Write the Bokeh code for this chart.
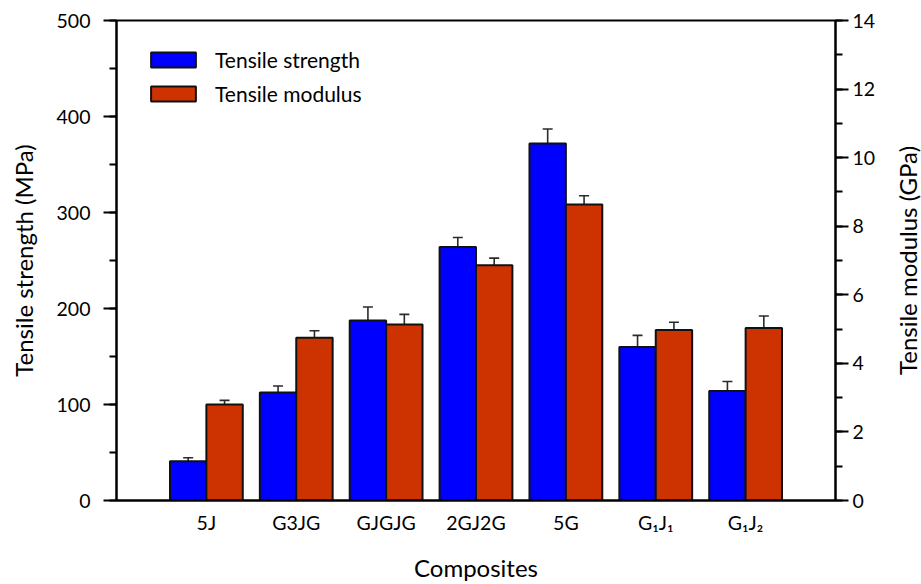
from bokeh.plotting import figure
from bokeh.layouts import row
from bokeh.models import (Range1d, LinearAxis, SingleIntervalTicker, FixedTicker,
                          ColumnDataSource, Whisker, TeeHead, Legend, LegendItem, Title)
from bokeh.embed import file_html
from bokeh.resources import INLINE

# Composite laminates and their tensile properties
composites = ["5J", "G3JG", "GJGJG", "2GJ2G", "5G", "G\u2081J\u2081", "G\u2081J\u2082"]
strength_mpa = [41, 112.5, 187.5, 264, 372, 160, 114]
strength_err = [3.5, 6.8, 14, 10, 15, 12, 10]
modulus_gpa = [2.80, 4.75, 5.13, 6.86, 8.63, 4.97, 5.03]
modulus_err = [0.12, 0.20, 0.30, 0.21, 0.26, 0.23, 0.35]

FONT = "Lato"
TICK_FS = "19.5px"
LABEL_FS = "24px"
BAR_W = 0.405
idx = list(range(len(composites)))

strength_src = ColumnDataSource(dict(
    x=[i - BAR_W / 2 for i in idx], top=strength_mpa,
    upper=[v + e for v, e in zip(strength_mpa, strength_err)],
    lower=[v - e for v, e in zip(strength_mpa, strength_err)],
))
modulus_src = ColumnDataSource(dict(
    x=[i + BAR_W / 2 for i in idx], top=modulus_gpa,
    upper=[v + e for v, e in zip(modulus_gpa, modulus_err)],
    lower=[v - e for v, e in zip(modulus_gpa, modulus_err)],
))

fig = figure(width=890, height=584, output_backend="svg", toolbar_location=None,
             x_range=Range1d(-1, 7), y_range=Range1d(0, 500),
             min_border_left=116, min_border_right=55, min_border_top=20,
             min_border_bottom=84)
fig.extra_y_ranges = {"mod": Range1d(0, 14)}
fig.xgrid.visible = False
fig.ygrid.visible = False
fig.outline_line_color = "black"
fig.outline_line_width = 2
fig.background_fill_color = "white"
fig.border_fill_color = "white"

sb = fig.vbar(x="x", top="top", width=BAR_W, source=strength_src,
              fill_color="#0000FF", line_color="#111111", line_width=2)
mb = fig.vbar(x="x", top="top", width=BAR_W, source=modulus_src, y_range_name="mod",
              fill_color="#CC3300", line_color="#111111", line_width=2)

for src, rng in ((strength_src, "default"), (modulus_src, "mod")):
    w = Whisker(base="x", upper="upper", lower="lower", source=src,
                line_color="#2a2a2a", line_width=1.6, y_range_name=rng,
                upper_head=TeeHead(size=10, line_color="#2a2a2a", line_width=1.6),
                lower_head=TeeHead(size=10, line_color="#2a2a2a", line_width=1.6))
    fig.add_layout(w)

# Bottom axis: composite names, no ticks
xa = fig.xaxis[0]
xa.ticker = FixedTicker(ticks=idx)
xa.major_label_overrides = {i: name for i, name in enumerate(composites)}
xa.major_tick_out = 0
xa.major_tick_in = 0
xa.minor_tick_out = 0
xa.minor_tick_in = 0
xa.axis_line_width = 2
xa.major_label_text_font = FONT
xa.major_label_text_font_size = TICK_FS
xa.major_label_text_color = "black"
xa.major_label_standoff = 10
xa.axis_label = "Composites"
xa.axis_label_text_font = FONT
xa.axis_label_text_font_size = LABEL_FS
xa.axis_label_text_font_style = "normal"
xa.axis_label_text_color = "black"
xa.axis_label_standoff = 16

# Left axis: tensile strength
ya = fig.yaxis[0]
ya.ticker = SingleIntervalTicker(interval=100, num_minor_ticks=2)
ya.axis_label = "Tensile strength (MPa)"

# Right axis: tensile modulus (its title sits in the narrow strip to the right)
ra = LinearAxis(y_range_name="mod",
                ticker=SingleIntervalTicker(interval=2, num_minor_ticks=2))
fig.add_layout(ra, "right")

for ax in (ya, ra):
    ax.axis_line_width = 2
    ax.major_tick_out = 13
    ax.major_tick_in = 0
    ax.minor_tick_out = 7
    ax.minor_tick_in = 0
    ax.major_tick_line_width = 2
    ax.minor_tick_line_width = 2
    ax.major_label_text_font = FONT
    ax.major_label_text_font_size = TICK_FS
    ax.major_label_text_color = "black"
    ax.axis_label_text_font = FONT
    ax.axis_label_text_font_size = LABEL_FS
    ax.axis_label_text_font_style = "normal"
    ax.axis_label_text_color = "black"
ya.major_label_standoff = 13
ya.axis_label_standoff = 16
ra.major_label_standoff = 4

legend = Legend(items=[LegendItem(label="Tensile strength", renderers=[sb]),
                       LegendItem(label="Tensile modulus", renderers=[mb])],
                location=(29, 394), padding=0, margin=0, spacing=9,
                glyph_width=56, glyph_height=19, label_height=25, label_standoff=14,
                label_text_font=FONT, label_text_font_size="21px",
                label_text_color="black", border_line_color=None,
                background_fill_alpha=0)
fig.add_layout(legend)

# Narrow strip holding the right-hand axis title, reading upward
strip = figure(width=31, height=584, output_backend="svg", toolbar_location=None,
               x_axis_location=None, y_axis_location=None,
               min_border_left=0, min_border_right=0, min_border_top=20,
               min_border_bottom=84)
strip.xgrid.visible = False
strip.ygrid.visible = False
strip.outline_line_color = None
strip.background_fill_color = "white"
strip.border_fill_color = "white"
strip.add_layout(Title(text="Tensile modulus (GPa)", align="center", standoff=0,
                       text_font=FONT, text_font_size=LABEL_FS,
                       text_font_style="normal", text_color="black"), "left")

p = row(fig, strip, spacing=0)

open("out.html", "w").write(file_html(p, INLINE))
